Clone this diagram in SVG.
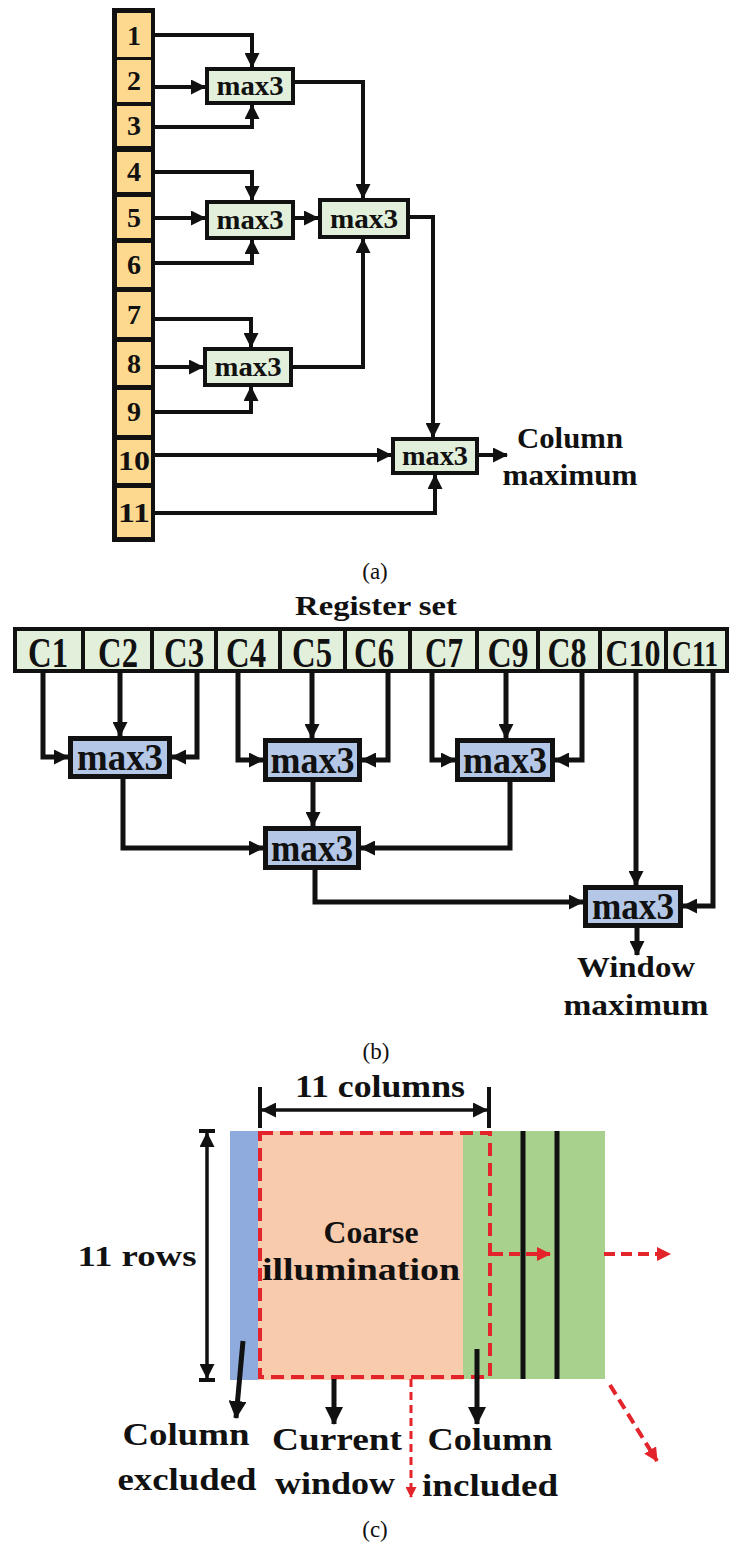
<svg xmlns="http://www.w3.org/2000/svg" width="731" height="1543" viewBox="0 0 731 1543" font-family="'Liberation Serif', serif">
<style>
text{font-family:'Liberation Serif','Times New Roman',Times,serif}
.t{font-weight:bold;fill:#111;text-anchor:middle}
.cap{font-weight:normal;fill:#111;text-anchor:middle;font-size:23px}
.num{font-size:28px}
.ma{font-size:28px}
.mb{font-size:38px}
.lbl{font-size:30px}
.reg{font-size:42px}
.boxa{fill:#e2efda;stroke:#111;stroke-width:4}
.boxb{fill:#b4c7e7;stroke:#111;stroke-width:5}
.cella{fill:#fdd98f}
.cellb{fill:#e2efda}
.wa{fill:none;stroke:#111;stroke-width:4;marker-end:url(#ah)}
.wb{fill:none;stroke:#111;stroke-width:5;marker-end:url(#ah)}
.wc{fill:none;stroke:#111;stroke-width:5;marker-end:url(#ahb)}
.rd{fill:none;stroke:#e3242b;stroke-width:4;stroke-dasharray:13 7}
</style>
<defs>
<marker id="ah" markerUnits="userSpaceOnUse" markerWidth="15" markerHeight="15" refX="14" refY="7.5" orient="auto"><path d="M0,0 L15,7.5 L0,15 z" fill="#111"/></marker>
<marker id="ahd" markerUnits="userSpaceOnUse" markerWidth="15" markerHeight="15" refX="14" refY="7.5" orient="auto-start-reverse"><path d="M0,0 L15,7.5 L0,15 z" fill="#111"/></marker>
<marker id="ahb" markerUnits="userSpaceOnUse" markerWidth="18" markerHeight="18" refX="17" refY="9" orient="auto"><path d="M0,0 L18,9 L0,18 z" fill="#111"/></marker>
<marker id="ahr" markerUnits="userSpaceOnUse" markerWidth="14" markerHeight="14" refX="13" refY="7" orient="auto"><path d="M0,0 L14,7 L0,14 z" fill="#e3242b"/></marker>
<marker id="ahrs" markerUnits="userSpaceOnUse" markerWidth="11" markerHeight="11" refX="10" refY="5.5" orient="auto"><path d="M0,0 L11,5.5 L0,11 z" fill="#e3242b"/></marker>
</defs>

<!-- ===== (a) ===== -->
<g id="a-cells">
<rect x="112" y="8" width="43" height="534" fill="#111"/>
<rect class="cella" x="117" y="13" width="34" height="44"/>
<rect class="cella" x="117" y="60" width="34" height="42"/>
<rect class="cella" x="117" y="106" width="34" height="40"/>
<rect class="cella" x="117" y="152" width="34" height="40"/>
<rect class="cella" x="117" y="197" width="34" height="41"/>
<rect class="cella" x="117" y="243" width="34" height="44"/>
<rect class="cella" x="117" y="292" width="34" height="45"/>
<rect class="cella" x="117" y="342" width="34" height="43"/>
<rect class="cella" x="117" y="390" width="34" height="45"/>
<rect class="cella" x="117" y="440" width="34" height="43"/>
<rect class="cella" x="117" y="488" width="34" height="49"/>
<text class="t num" x="134" y="45">1</text>
<text class="t num" x="134" y="90">2</text>
<text class="t num" x="134" y="135">3</text>
<text class="t num" x="134" y="181">4</text>
<text class="t num" x="134" y="227">5</text>
<text class="t num" x="134" y="274">6</text>
<text class="t num" x="134" y="324">7</text>
<text class="t num" x="134" y="373">8</text>
<text class="t num" x="134" y="421">9</text>
<text class="t num" x="134" y="470" textLength="32" lengthAdjust="spacingAndGlyphs">10</text>
<text class="t num" x="134" y="522" textLength="32" lengthAdjust="spacingAndGlyphs">11</text>
</g>

<g id="a-max1"><rect class="boxa" x="207" y="69" width="86" height="34"/><text class="t ma" x="250" y="95" textLength="67" lengthAdjust="spacingAndGlyphs">max3</text></g>
<g id="a-max2"><rect class="boxa" x="207" y="202" width="86" height="36"/><text class="t ma" x="250" y="229" textLength="67" lengthAdjust="spacingAndGlyphs">max3</text></g>
<g id="a-max3"><rect class="boxa" x="320" y="200" width="88" height="37"/><text class="t ma" x="364" y="228" textLength="68" lengthAdjust="spacingAndGlyphs">max3</text></g>
<g id="a-max4"><rect class="boxa" x="205" y="349" width="86" height="36"/><text class="t ma" x="248" y="376" textLength="67" lengthAdjust="spacingAndGlyphs">max3</text></g>
<g id="a-max5"><rect class="boxa" x="393" y="439" width="84" height="34"/><text class="t ma" x="435" y="465" textLength="66" lengthAdjust="spacingAndGlyphs">max3</text></g>
<g id="a-out">
<text class="t" style="font-size:29px" x="570" y="448" textLength="106" lengthAdjust="spacingAndGlyphs">Column</text>
<text class="t" style="font-size:29px" x="570" y="485" textLength="135" lengthAdjust="spacingAndGlyphs">maximum</text>
</g>

<g id="a-connectors">
<path class="wa" d="M155,35 H252 V67"/>
<path class="wa" d="M155,87 H205"/>
<path class="wa" d="M155,127 H252 V105"/>
<path class="wa" d="M295,82 H363 V198"/>
<path class="wa" d="M155,172 H252 V200"/>
<path class="wa" d="M155,218 H205"/>
<path class="wa" d="M155,263 H252 V240"/>
<path class="wa" d="M295,218 H318"/>
<path class="wa" d="M155,319 H251 V347"/>
<path class="wa" d="M155,367 H203"/>
<path class="wa" d="M155,412 H251 V387"/>
<path class="wa" d="M293,367 H363 V239"/>
<path class="wa" d="M410,217 H433 V437"/>
<path class="wa" d="M155,455 H391"/>
<path class="wa" d="M155,513 H435 V475"/>
<path class="wa" d="M479,455 H507"/>
</g>
<text class="cap" x="375" y="579">(a)</text>

<!-- ===== (b) ===== -->
<g id="b-title"><text class="t" style="font-size:28px" x="376" y="615" textLength="162" lengthAdjust="spacingAndGlyphs">Register set</text></g>
<g id="b-register">
<rect x="13" y="627" width="716" height="46" fill="#111"/>
<rect class="cellb" x="17" y="631" width="64" height="38"/>
<rect class="cellb" x="85" y="631" width="65" height="38"/>
<rect class="cellb" x="154" y="631" width="60" height="38"/>
<rect class="cellb" x="218" y="631" width="60" height="38"/>
<rect class="cellb" x="282" y="631" width="61" height="38"/>
<rect class="cellb" x="347" y="631" width="61" height="38"/>
<rect class="cellb" x="412" y="631" width="63" height="38"/>
<rect class="cellb" x="479" y="631" width="57" height="38"/>
<rect class="cellb" x="540" y="631" width="58" height="38"/>
<rect class="cellb" x="602" y="631" width="62" height="38"/>
<rect class="cellb" x="668" y="631" width="57" height="38"/>
<text class="t reg" x="48" y="667" textLength="40" lengthAdjust="spacingAndGlyphs">C1</text>
<text class="t reg" x="118" y="667" textLength="40" lengthAdjust="spacingAndGlyphs">C2</text>
<text class="t reg" x="184" y="667" textLength="40" lengthAdjust="spacingAndGlyphs">C3</text>
<text class="t reg" x="246" y="667" textLength="40" lengthAdjust="spacingAndGlyphs">C4</text>
<text class="t reg" x="312" y="667" textLength="40" lengthAdjust="spacingAndGlyphs">C5</text>
<text class="t reg" x="374" y="667" textLength="40" lengthAdjust="spacingAndGlyphs">C6</text>
<text class="t reg" x="444" y="667" textLength="38" lengthAdjust="spacingAndGlyphs">C7</text>
<text class="t reg" x="508" y="667" textLength="41" lengthAdjust="spacingAndGlyphs">C9</text>
<text class="t reg" x="567" y="667" textLength="39" lengthAdjust="spacingAndGlyphs">C8</text>
<text class="t" style="font-size:38px" x="633" y="666" textLength="55" lengthAdjust="spacingAndGlyphs">C10</text>
<text class="t" style="font-size:36px" x="695" y="666" textLength="46" lengthAdjust="spacingAndGlyphs">C11</text>
</g>
<g id="b-max1"><rect class="boxb" x="70.5" y="738.5" width="99" height="38"/><text class="t mb" x="120" y="770" textLength="86" lengthAdjust="spacingAndGlyphs">max3</text></g>
<g id="b-max2"><rect class="boxb" x="265.5" y="740.5" width="94" height="39"/><text class="t mb" x="312.5" y="773" textLength="84" lengthAdjust="spacingAndGlyphs">max3</text></g>
<g id="b-max3"><rect class="boxb" x="457.5" y="740.5" width="95" height="39"/><text class="t mb" x="505" y="773" textLength="84" lengthAdjust="spacingAndGlyphs">max3</text></g>
<g id="b-max4"><rect class="boxb" x="265.5" y="828.5" width="93" height="39"/><text class="t mb" x="312" y="861" textLength="82" lengthAdjust="spacingAndGlyphs">max3</text></g>
<g id="b-max5"><rect class="boxb" x="585.5" y="887.5" width="95" height="38"/><text class="t mb" x="633" y="919" textLength="82" lengthAdjust="spacingAndGlyphs">max3</text></g>
<g id="b-out">
<text class="t lbl" x="636" y="977" textLength="118" lengthAdjust="spacingAndGlyphs">Window</text>
<text class="t lbl" x="636" y="1015" textLength="145" lengthAdjust="spacingAndGlyphs">maximum</text>
</g>
<g id="b-connectors">
<path class="wb" d="M43,673 V757 H68"/>
<path class="wb" d="M120,673 V736"/>
<path class="wb" d="M197,673 V757 H172"/>
<path class="wb" d="M238,673 V760 H263"/>
<path class="wb" d="M312,673 V738"/>
<path class="wb" d="M388,673 V760 H362"/>
<path class="wb" d="M432,673 V760 H455"/>
<path class="wb" d="M506,673 V738"/>
<path class="wb" d="M582,673 V760 H555"/>
<path class="wb" d="M123,779 V848 H263"/>
<path class="wb" d="M313,782 V826"/>
<path class="wb" d="M510,782 V848 H361"/>
<path class="wb" d="M315,870 V902 H583"/>
<path class="wb" d="M636,673 V885"/>
<path class="wb" d="M713,673 V906 H683"/>
<path class="wb" d="M637,928 V955"/>
</g>
<text class="cap" x="376" y="1059">(b)</text>

<!-- ===== (c) ===== -->
<g id="c-grid">
<rect x="230" y="1131" width="28" height="249" fill="#8faadc"/>
<rect x="258" y="1131" width="205" height="249" fill="#f8cbad"/>
<rect x="463" y="1131" width="142" height="248" fill="#a9d18e"/>
<line x1="523" y1="1131" x2="523" y2="1379" stroke="#111" stroke-width="5"/>
<line x1="557" y1="1131" x2="557" y2="1379" stroke="#111" stroke-width="5"/>
<rect class="rd" x="260" y="1133" width="230" height="244"/>
<text class="t" style="font-size:32px" x="371" y="1243" textLength="95" lengthAdjust="spacingAndGlyphs">Coarse</text>
<text class="t" style="font-size:32px" x="361" y="1280" textLength="198" lengthAdjust="spacingAndGlyphs">illumination</text>
</g>
<g id="c-dims">
<line x1="260" y1="1087" x2="260" y2="1128" stroke="#111" stroke-width="4"/>
<line x1="489" y1="1087" x2="489" y2="1128" stroke="#111" stroke-width="4"/>
<line x1="262" y1="1110" x2="487" y2="1110" stroke="#111" stroke-width="3.5" marker-start="url(#ahd)" marker-end="url(#ahd)"/>
<text class="t" style="font-size:31px" x="380" y="1097" textLength="170" lengthAdjust="spacingAndGlyphs">11 columns</text>
<line x1="199" y1="1131" x2="215" y2="1131" stroke="#111" stroke-width="4"/>
<line x1="199" y1="1380" x2="215" y2="1380" stroke="#111" stroke-width="4"/>
<line x1="207" y1="1133" x2="207" y2="1378" stroke="#111" stroke-width="3.5" marker-start="url(#ahd)" marker-end="url(#ahd)"/>
<text class="t lbl" x="137" y="1266" textLength="119" lengthAdjust="spacingAndGlyphs">11 rows</text>
</g>
<g id="c-moves">
<path class="rd" d="M492,1254 H550" marker-end="url(#ahr)" style="stroke-dasharray:11 6"/>
<path class="rd" d="M604,1254 H670" marker-end="url(#ahr)" style="stroke-dasharray:11 6"/>
<path class="rd" d="M610,1385 L657,1461" marker-end="url(#ahr)" style="stroke-dasharray:11 6"/>
<path class="rd" d="M411,1379 V1497" marker-end="url(#ahrs)" style="stroke-width:3;stroke-dasharray:8 5"/>
</g>
<g id="c-labels">
<path class="wc" d="M243,1341 L236,1418"/>
<path class="wc" d="M334,1379 V1424"/>
<path class="wc" d="M477,1349 V1424"/>
<text class="t" style="font-size:32px" x="186" y="1445" textLength="127" lengthAdjust="spacingAndGlyphs">Column</text>
<text class="t" style="font-size:32px" x="187" y="1490" textLength="139" lengthAdjust="spacingAndGlyphs">excluded</text>
<text class="t" style="font-size:32px" x="337" y="1450" textLength="130" lengthAdjust="spacingAndGlyphs">Current</text>
<text class="t" style="font-size:32px" x="335" y="1494" textLength="120" lengthAdjust="spacingAndGlyphs">window</text>
<text class="t" style="font-size:32px" x="490" y="1450" textLength="125" lengthAdjust="spacingAndGlyphs">Column</text>
<text class="t" style="font-size:32px" x="490" y="1496" textLength="136" lengthAdjust="spacingAndGlyphs">included</text>
</g>
<text class="cap" x="375" y="1537">(c)</text>
</svg>
